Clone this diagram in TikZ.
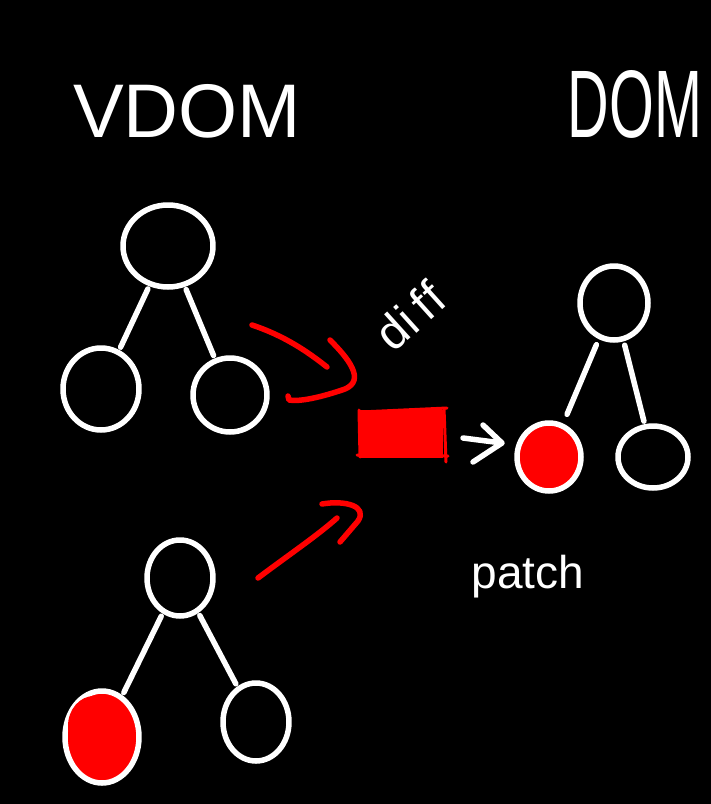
\documentclass[tikz,border=0pt]{standalone}
\usepackage{fontspec}
\setmainfont{Liberation Sans}
\usetikzlibrary{shapes.geometric}
\begin{document}
\begin{tikzpicture}[x=1pt,y=-1pt,
  pen/.style={line width=5.5pt,line cap=round,line join=round},
  chalk/.style={pen,draw=white},
  marker/.style={pen,draw=red},
  leaf/.style={ellipse,chalk,inner sep=0pt},
  hot/.style={leaf,fill=red},
  edge/.style={chalk,shorten <=3pt,shorten >=3pt},
  label/.style={text=white,inner sep=0pt}]
% board
\fill[black] (0,0) rectangle (711,804);
\useasboundingbox (0,0) rectangle (711,804);

% headings
\node[label,font=\fontsize{76}{76}\selectfont,anchor=base] (vdom) at (187,137) {VDOM};
\node[label,font=\fontsize{96}{96}\selectfont,anchor=base] (dom) at (635,137) {\scalebox{0.6}[1]{DOM}};

% old virtual tree
\node[leaf,minimum width=90pt,minimum height=82pt] (oa) at (168,246) {};
\node[leaf,minimum width=76pt,minimum height=82pt] (ob) at (101,389) {};
\node[leaf,minimum width=74pt,minimum height=74pt] (oc) at (230,395) {};
\draw[edge] (oa) -- (ob);
\draw[edge] (oa) -- (oc);

% new virtual tree
\node[leaf,minimum width=66pt,minimum height=76pt] (na) at (180,578) {};
\node[hot,minimum width=74pt,minimum height=92pt] (nb) at (102,737) {};
\fill[red] (94,726) ellipse (26pt and 30pt);
\node[leaf,minimum width=66pt,minimum height=78pt] (nc) at (256,722) {};
\draw[edge] (na) -- (nb);
\draw[edge] (na) -- (nc);

% real tree
\node[leaf,minimum width=68pt,minimum height=74pt] (ra) at (614,303) {};
\node[hot,minimum width=64pt,minimum height=68pt] (rb) at (549,457) {};
\node[leaf,minimum width=70pt,minimum height=62pt] (rc) at (653,457) {};
\draw[edge,shorten <=6pt,shorten >=10pt] (ra) -- (rb);
\draw[edge,shorten <=4pt] (ra) -- (rc);

% change set
\node[draw=red,fill=red,line width=4pt,minimum width=80pt,minimum height=44pt] (box) at (401,434) {};
\draw[red,line width=3pt,line cap=round] (360,412) -- (447,408) (444,408) -- (446,462) (357,455) -- (448,456) (359,410) -- (360,457);

% diff arrows
\coordinate (d0) at (252,325);
\coordinate (d1) at (327,367);
\draw[marker] (d0) .. controls (285,336) and (308,352) .. (d1);
\draw[marker] (330,340) .. controls (348,358) and (366,380) .. (345,389) .. controls (322,397) and (300,402) .. (289,400) -- (288,396);
\coordinate (e0) at (258,578);
\coordinate (e1) at (337,518);
\draw[marker] (e0) .. controls (290,554) and (318,535) .. (e1);
\draw[marker] (322,504) .. controls (345,500) and (368,506) .. (358,521) -- (340,542);
\node[label,font=\fontsize{48}{48}\selectfont,rotate=42] (diff) at (410,316) {d\kern1pt i\kern8pt f\kern2pt f};

% patch arrow
\coordinate (p0) at (463,438);
\coordinate (p1) at (502,443);
\draw[chalk] (p0) -- (p1) (p1) ++(-19,-18) -- (p1) -- ++(-29,19);
\node[label,font=\fontsize{46}{46}\selectfont,anchor=base] (patch) at (528,588) {patch};
\end{tikzpicture}
\end{document}
